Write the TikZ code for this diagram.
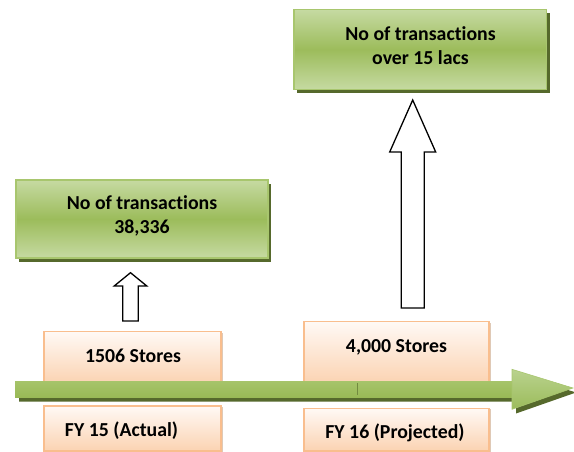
\documentclass[tikz,border=0pt]{standalone}
\usepackage{fontspec}
\setmainfont{Carlito}[Ligatures={NoCommon,NoRare}]
\usetikzlibrary{calc,shadows}

\definecolor{gLight}{HTML}{C6DAA2}
\definecolor{gMid}{HTML}{9CBC5B}
\definecolor{gEdge}{HTML}{A8C66E}
\definecolor{gShadow}{HTML}{56692C}
\definecolor{pTop}{HTML}{FFF9F5}
\definecolor{pBottom}{HTML}{FBD3B2}
\definecolor{pEdge}{HTML}{F9BE8E}
\definecolor{pShadow}{HTML}{C9A585}
\definecolor{barTop}{HTML}{A6C46A}
\definecolor{barBottom}{HTML}{99B956}
\definecolor{headLight}{HTML}{B9D28E}

\tikzset{
  gbox/.style={rectangle, draw=gEdge, line width=1.3pt,
    top color=gLight, bottom color=gLight, middle color=gMid,
    minimum width=252pt, inner sep=0pt,
    drop shadow={shadow xshift=3pt, shadow yshift=-4pt, fill=gShadow, opacity=1}},
  pbox/.style={rectangle, draw=pEdge, line width=1.3pt,
    top color=pTop, bottom color=pBottom, inner sep=0pt,
    drop shadow={shadow xshift=2pt, shadow yshift=-1pt, fill=pShadow, opacity=0.6}},
  lbl/.style={font=\bfseries\fontsize{19.8}{23.5}\selectfont, align=center,
    inner sep=0pt, text=black},
  capline/.style={text height=12.7pt, text depth=0pt},
  hollow/.style={draw=black, fill=white, line width=1.3pt, line join=miter},
}

% upward block arrow: base point, tip point, half shaft width, half head width, head length
\newcommand{\blockup}[5]{%
  \draw[hollow] let \p1=(#1), \p2=(#2) in
    (\x1-#3,\y1) -- (\x1-#3,\y2-#5) -- (\x1-#4,\y2-#5) -- (\x2,\y2)
    -- (\x1+#4,\y2-#5) -- (\x1+#3,\y2-#5) -- (\x1+#3,\y1) -- cycle;}

\begin{document}
\begin{tikzpicture}[x=1pt,y=-1pt]
\useasboundingbox (0,0) rectangle (574,452);

% result boxes
\node[gbox, minimum height=78pt] (g1) at (142,219) {};
\node[lbl] (g1t) at (142,216) {No of transactions\\38,336};
\node[gbox, minimum width=252.5pt, minimum height=80pt] (g2) at (420.3,49.5) {};
\node[lbl] (g2t) at (420.5,45.5) {No of transactions\\over 15 lacs};

% store boxes above the time line
\node[pbox, minimum width=177pt, minimum height=51.3pt] (s1) at (132.5,357.3) {};
\node[lbl, capline] (s1t) at (133,356.3) {1506 Stores};
\node[pbox, minimum width=185pt, minimum height=61.3pt] (s2) at (396.5,352.3) {};
\node[lbl, capline] (s2t) at (396.5,346.2) {4,000 Stores};

% year boxes below the time line
\node[pbox, minimum width=177pt, minimum height=45pt] (y1) at (132.5,428.4) {};
\node[lbl, capline] (y1t) at (121.5,430) {FY 15 (Actual)};
\node[pbox, minimum width=185pt, minimum height=42.5pt] (y2) at (396.5,429.6) {};
\node[lbl, capline] (y2t) at (395,432) {FY 16 (Projected)};

% time line arrow
\coordinate (tStart) at (15,389);
\coordinate (tEnd) at (573,388);
\fill[gShadow] ($(tStart)+(4,-8)$) -- (516,381) -- (516,373.5) -- ($(tEnd)+(3,4.5)$)
  -- (516,413.5) -- (516,401.7) -- ($(tStart)+(4,12.7)$) -- cycle;
\shade[top color=barTop, bottom color=barBottom]
  ($(tStart)+(0,-8)$) -- (512,381) -- (512,397.3) -- ($(tStart)+(0,8.3)$) -- cycle;
\shade[top color=headLight, bottom color=gMid, draw=gEdge, line width=0.6pt]
  (512,369.3) -- (tEnd) -- (512,409.3) -- cycle;
\draw[gShadow!60!gMid, line width=0.6pt] (357.7,383) -- (357.7,395);

% growth arrows
\coordinate (a1base) at (130.5,321);
\coordinate (a1tip) at (130.5,272.7);
\coordinate (a2base) at (412.7,308);
\coordinate (a2tip) at (412.7,100);
\blockup{a1base}{a1tip}{7.8pt}{16.3pt}{13.3pt}
\blockup{a2base}{a2tip}{11.5pt}{23pt}{52pt}
\end{tikzpicture}
\end{document}
